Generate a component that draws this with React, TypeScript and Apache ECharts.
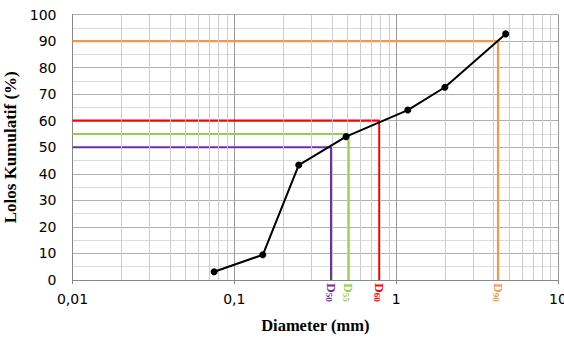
import React, { useEffect, useRef } from "react";
import * as echarts from "echarts";

const sieveSizes = [0.075, 0.15, 0.25, 0.49, 1.18, 2.0, 4.75];
const passing = [3.1, 9.5, 43.3, 54.0, 64.0, 72.6, 92.7];

const dNames = ["50", "55", "60", "90"];
const dPercents = [50, 55, 60, 90];
const dDiameters = [0.396, 0.508, 0.787, 4.26];
const dColors = ["#7030a0", "#92d050", "#ff0000", "#f79646"];

const decades = [0.01, 0.1, 1];
const minorMultipliers = [2, 3, 4, 5, 6, 7, 8, 9];

const xMin = 0.01;
const xMax = 10;

export default function App() {
  const ref = useRef<HTMLDivElement>(null);
  useEffect(() => {
    if (!ref.current) return;
    const chart = echarts.init(ref.current, null, { renderer: "svg" });

    const minorValues: number[] = [];
    decades.forEach((d) => minorMultipliers.forEach((m) => minorValues.push(+(d * m).toPrecision(3))));

    const dSeries = dNames.map((name, i) => ({
      type: "line",
      name: "D" + name,
      data: [
        [xMin, dPercents[i]],
        [dDiameters[i], dPercents[i]],
        {
          value: [dDiameters[i], 0],
          label: {
            show: true,
            position: "bottom",
            distance: 3,
            rotate: -90,
            align: "left",
            verticalAlign: "middle",
            formatter: "{d|D}{s|" + name + "}",
            rich: {
              d: {
                fontFamily: "Liberation Serif",
                fontWeight: "bold",
                fontSize: 13.5,
                color: dColors[i],
                lineHeight: 14,
              },
              s: {
                fontFamily: "Liberation Serif",
                fontWeight: "bold",
                fontSize: 9,
                color: dColors[i],
                verticalAlign: "bottom",
                lineHeight: 10,
              },
            },
          },
        },
      ],
      showSymbol: true,
      symbolSize: 0,
      clip: false,
      lineStyle: { color: dColors[i], width: 2.2 },
      itemStyle: { color: dColors[i] },
      z: 3,
    }));

    chart.setOption({
      animation: false,
      grid: { left: 72.5, right: 6, top: 14.5, bottom: 58, outerBoundsMode: "none" },
      xAxis: {
        type: "log",
        logBase: 10,
        min: xMin,
        max: xMax,
        name: "Diameter (mm)",
        nameLocation: "middle",
        nameGap: 37,
        nameTextStyle: {
          fontFamily: "Liberation Serif",
          fontWeight: "bold",
          fontSize: 16.5,
          color: "#000",
        },
        axisLine: { show: true, lineStyle: { color: "#888", width: 1 } },
        axisTick: { show: true, inside: false, length: 4, lineStyle: { color: "#888" } },
        minorTick: { show: false },
        axisLabel: {
          fontFamily: "DejaVu Sans",
          fontSize: 14,
          color: "#000",
          margin: 12,
          formatter: (v: number) => String(v).replace(".", ","),
        },
        splitLine: { show: true, lineStyle: { color: "#999", width: 1 } },
        minorSplitLine: { show: false },
      },
      yAxis: {
        type: "value",
        min: 0,
        max: 100,
        interval: 10,
        name: "Lolos Kumulatif (%)",
        nameLocation: "middle",
        nameGap: 47,
        nameTextStyle: {
          fontFamily: "Liberation Serif",
          fontWeight: "bold",
          fontSize: 17,
          color: "#000",
        },
        axisLine: { show: true, lineStyle: { color: "#888", width: 1 } },
        axisTick: { show: false },
        axisLabel: {
          fontFamily: "DejaVu Sans",
          fontSize: 14,
          color: "#000",
          margin: 16,
        },
        splitLine: { show: true, lineStyle: { color: "#b0b0b0", width: 1 } },
        minorTick: { show: false, splitNumber: 2 },
        minorSplitLine: { show: true, lineStyle: { color: "#dcdcdc", width: 1 } },
      },
      series: [
        {
          type: "line",
          name: "minorGrid",
          data: [],
          silent: true,
          clip: false,
          z: 1,
          markLine: {
            silent: true,
            symbol: ["none", "none"],
            label: { show: false },
            lineStyle: { color: "#cccccc", width: 1, type: "solid" },
            emphasis: { disabled: true },
            data: minorValues.map((v) => [{ coord: [v, 0] }, { coord: [v, 100] }]),
          },
        },
        {
          type: "line",
          name: "minorTicks",
          data: [],
          silent: true,
          clip: false,
          z: 1,
          markLine: {
            silent: true,
            symbol: ["none", "none"],
            label: { show: false },
            lineStyle: { color: "#a6a6a6", width: 1, type: "solid" },
            emphasis: { disabled: true },
            data: minorValues.map((v) => [{ coord: [v, 0] }, { coord: [v, -1.5] }]),
          },
        },
        ...dSeries,
        {
          type: "line",
          name: "Gradasi",
          data: sieveSizes.map((s, i) => [s, passing[i]]),
          symbol: "circle",
          symbolSize: 7,
          lineStyle: { color: "#000", width: 2 },
          itemStyle: { color: "#000" },
          z: 5,
        },
      ],
    });
    return () => chart.dispose();
  }, []);
  return <div ref={ref} style={{ width: 564, height: 338, position: "absolute", left: 0, top: 0 }} />;
}
